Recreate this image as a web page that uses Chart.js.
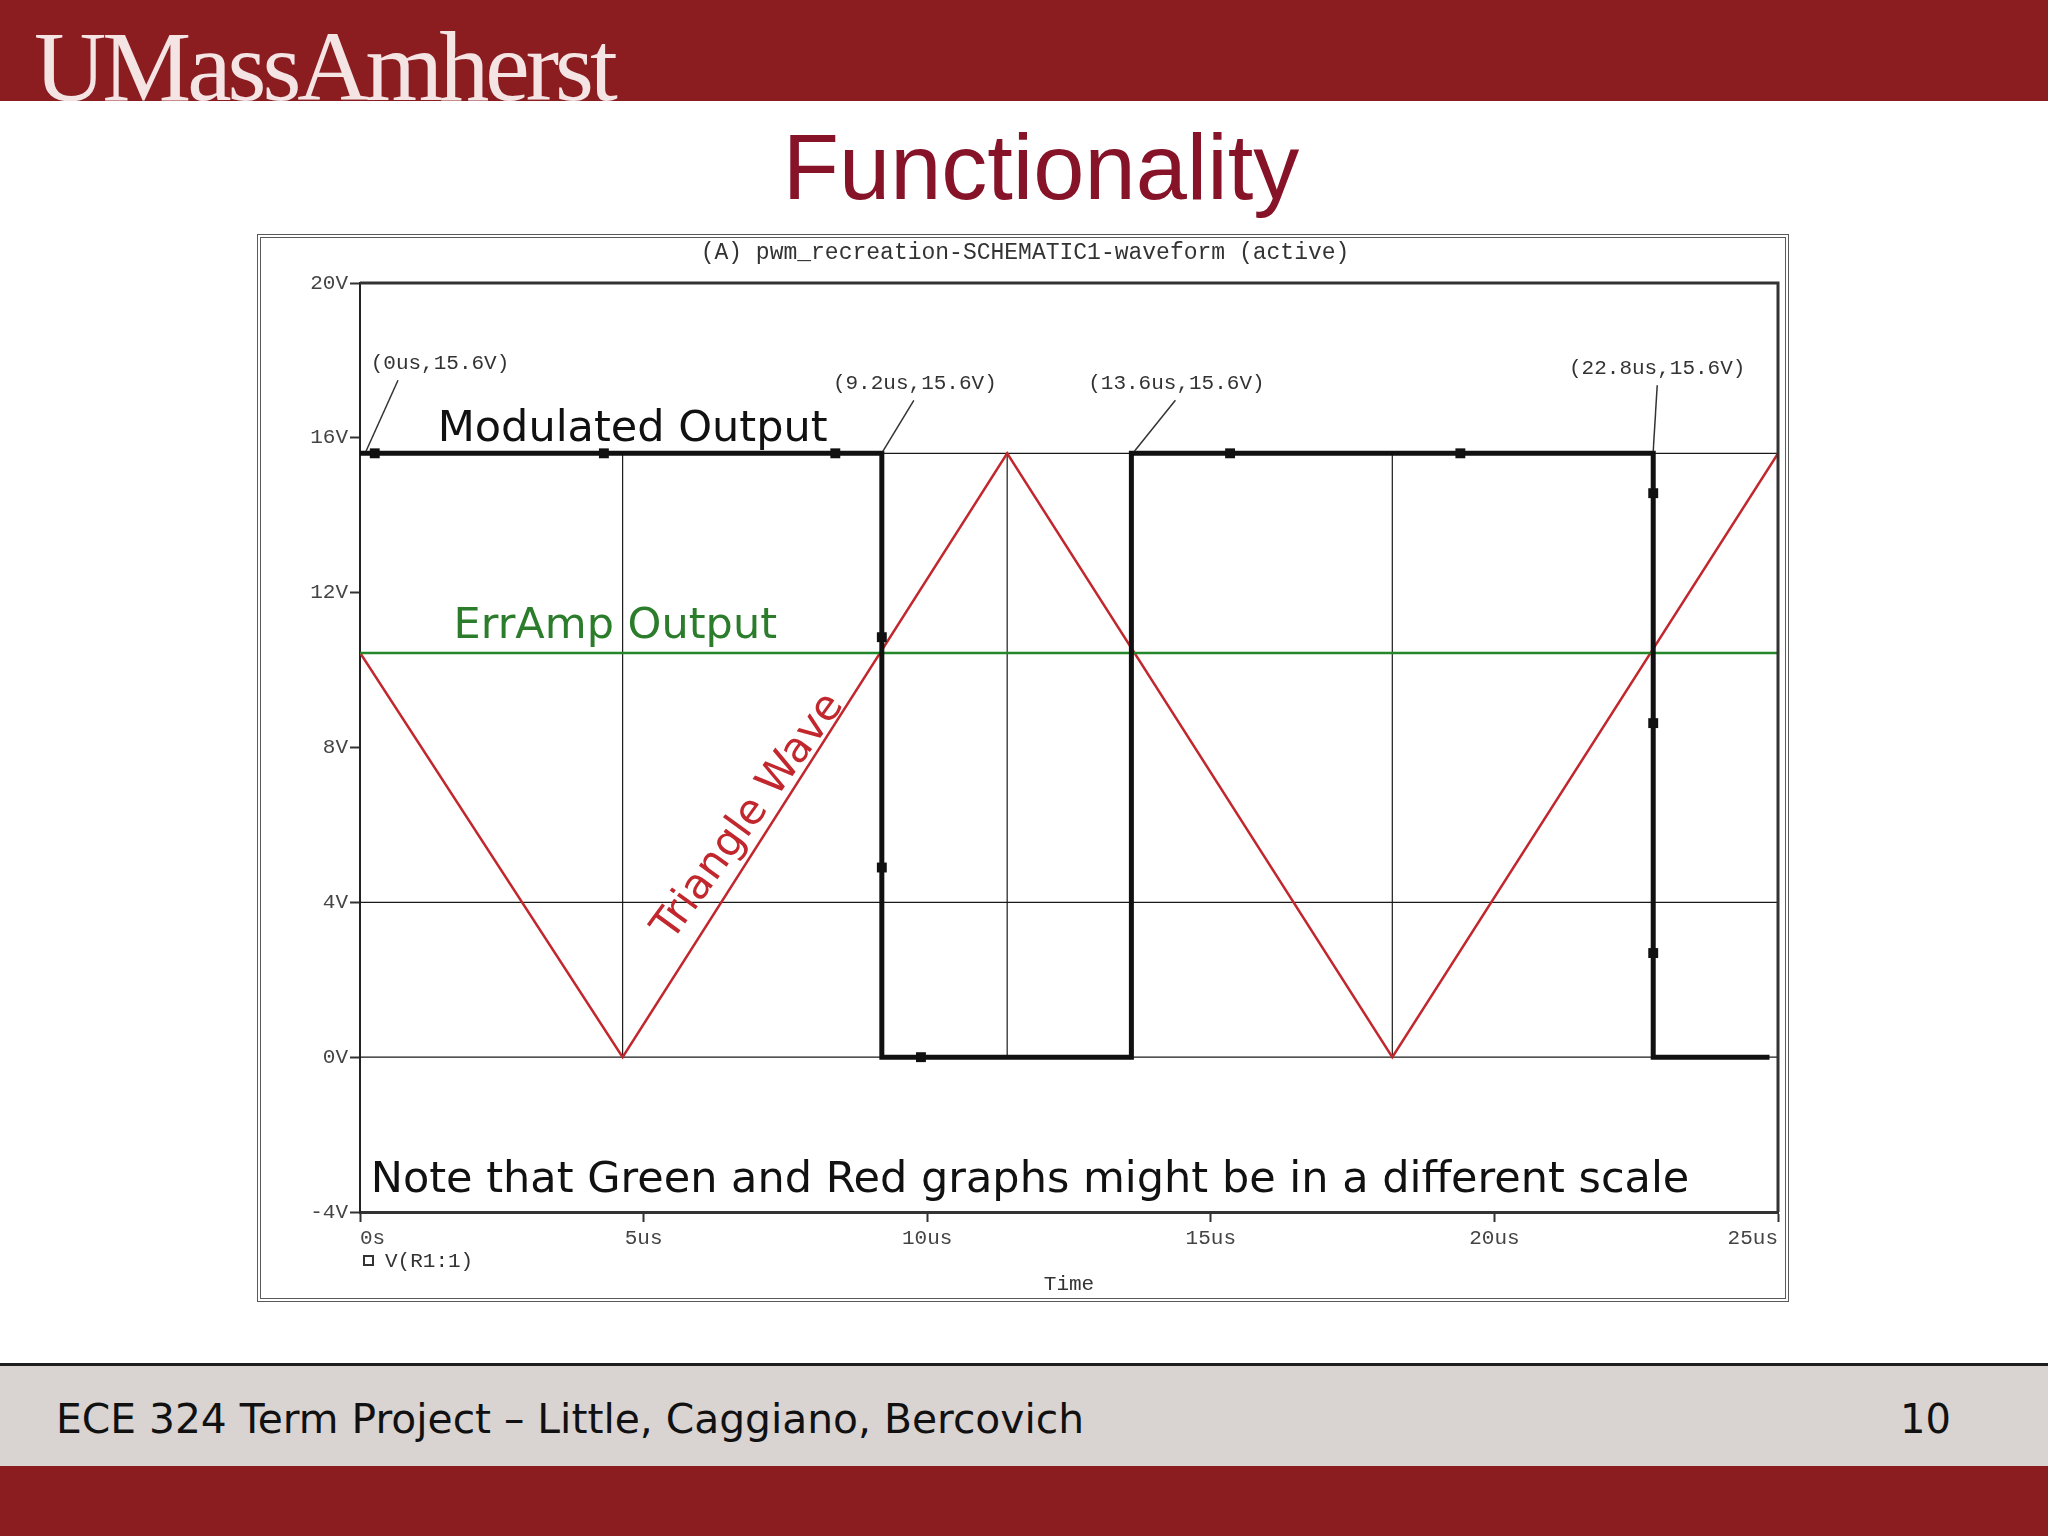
<!DOCTYPE html>
<html lang="en">
<head>
<meta charset="UTF-8">
<title>Functionality</title>
<script src="https://cdn.jsdelivr.net/npm/chart.js@4.4.1/dist/chart.umd.min.js"></script>
<style>
  body { margin: 0; width: 2048px; height: 1536px; position: relative; overflow: hidden; background: #fff; }
  #banner { position: absolute; left: 0; top: 0; width: 2048px; height: 101px; background: #8b1d21; overflow: hidden; }
  #logo { position: absolute; left: 34px; top: 17px; font: 100px/1 "Liberation Serif", serif; letter-spacing: -4px; color: #f4e4e4; white-space: nowrap; }
  #title { position: absolute; left: 1041px; top: 121px; transform: translateX(-50%); font: 92px/1 "Liberation Sans", Arial, sans-serif; color: #861328; white-space: nowrap; }
  #figure { position: absolute; left: 257px; top: 234px; width: 1532px; height: 1068px; border: 4px double #5a5a5a; box-sizing: border-box; background: #fff; }
  #chart { display: block; }
  #footline { position: absolute; left: 0; top: 1363px; width: 2048px; height: 3px; background: #1e1e1e; }
  #footer { position: absolute; left: 0; top: 1366px; width: 2048px; height: 100px; background: #d9d3d2; }
  #bottom { position: absolute; left: 0; top: 1466px; width: 2048px; height: 70px; background: #8b1d21; }
  .foot { position: absolute; top: 1399px; font: 40px/1 "DejaVu Sans", sans-serif; color: #111; white-space: nowrap; transform-origin: left center; }
</style>
</head>
<body>

<div id="banner"><div id="logo">UMassAmherst</div></div>
<div id="title">Functionality</div>

<div id="figure">
  <canvas id="chart" width="1524" height="1060"></canvas>
</div>

<div id="footline"></div>
<div id="footer"></div>
<div id="bottom"></div>
<div class="foot" id="footText" style="left:56px">ECE 324 Term Project – Little, Caggiano, Bercovich</div>
<div class="foot" style="left:1900px">10</div>

<script>
// axis ticks
const timeTicks = [0, 5, 10, 15, 20, 25];
const timeLabels = ['0s', '5us', '10us', '15us', '20us', '25us'];
const voltTicks = [-4, 0, 4, 8, 12, 16, 20];
const voltLabels = ['-4V', '0V', '4V', '8V', '12V', '16V', '20V'];

// modulated output V(R1:1)
const squareT = [0, 9.2, 9.2, 13.6, 13.6, 22.8, 22.8, 24.85];
const squareV = [15.6, 15.6, 0, 0, 15.6, 15.6, 0, 0];
const markerT = [0.26, 4.3, 8.38, 9.2, 9.2, 9.89, 15.34, 19.4, 22.8, 22.8, 22.8];
const markerV = [15.6, 15.6, 15.6, 10.85, 4.9, 0, 15.6, 15.6, 14.57, 8.63, 2.69];

// triangle wave
const triT = [0, 4.63, 11.41, 18.2, 25];
const triV = [10.45, 0, 15.6, 0, 15.6];

// errAmp output
const errT = [0, 25];
const errV = [10.44, 10.44];

// grid lines of the probe window
const gridTimes = [4.63, 11.41, 18.2];
const gridTimeSpan = [0, 15.6];
const gridLevels = [0, 4, 15.6];
const gridLevelSpan = [0, 25];

// cursor labels
const cursorT = [0, 9.2, 13.6, 22.8];
const cursorV = [15.6, 15.6, 15.6, 15.6];
const cursorText = ['(0us,15.6V)', '(9.2us,15.6V)', '(13.6us,15.6V)', '(22.8us,15.6V)'];

const RED = '#c1272d';
const GREEN = '#24882a';
const MONO = '"Liberation Mono", "Courier New", monospace';
const SANS = '"DejaVu Sans", Verdana, sans-serif';

function pts(xs, ys) {
  return xs.map((x, i) => ({ x: x, y: ys[i] }));
}

const gridSets = [];
gridTimes.forEach(t => {
  gridSets.push({ data: pts([t, t], gridTimeSpan), borderColor: '#1a1a1a', borderWidth: 1.2, pointRadius: 0, order: 10 });
});
gridLevels.forEach(v => {
  gridSets.push({ data: pts(gridLevelSpan, [v, v]), borderColor: '#1a1a1a', borderWidth: 1.2, pointRadius: 0, order: 10 });
});

const scopeDecor = {
  id: 'scopeDecor',
  beforeDraw(chart) {
    const c = chart.ctx;
    c.save();
    c.fillStyle = '#fff';
    c.fillRect(0, 0, chart.width, chart.height);
    c.restore();
  },
  afterDatasetsDraw(chart) {
    const c = chart.ctx;
    const xs = chart.scales.x, ys = chart.scales.y;
    c.save();

    // cursor labels with leader lines
    const offs = [[80, -90, 6, 38], [33, -70, 1, 32], [45, -70, 3, 44], [4, -85, 0, 4]];
    c.font = '21px ' + MONO;
    c.fillStyle = '#333';
    c.strokeStyle = '#333';
    c.lineWidth = 1.5;
    c.textAlign = 'center';
    c.textBaseline = 'middle';
    cursorT.forEach((t, i) => {
      const px = xs.getPixelForValue(t), py = ys.getPixelForValue(cursorV[i]);
      const o = offs[i];
      c.beginPath();
      c.moveTo(px + o[2], py - 2);
      c.lineTo(px + o[3], py + o[1] + 17);
      c.stroke();
      c.fillText(cursorText[i], px + o[0], py + o[1]);
    });

    // hand-written notes on the plot
    c.textAlign = 'left';
    c.textBaseline = 'alphabetic';
    c.font = '43px ' + SANS;
    c.fillStyle = '#111';
    c.fillText('Modulated Output', xs.getPixelForValue(1.37), ys.getPixelForValue(15.92));
    c.fillText('Note that Green and Red graphs might be in a different scale', xs.getPixelForValue(0.19), ys.getPixelForValue(-3.48));
    c.fillStyle = '#2b7d2b';
    c.fillText('ErrAmp Output', xs.getPixelForValue(1.65), ys.getPixelForValue(10.83));

    c.save();
    c.translate(xs.getPixelForValue(6.86), ys.getPixelForValue(6.2));
    c.rotate(-54 * Math.PI / 180);
    c.textAlign = 'center';
    c.textBaseline = 'middle';
    c.font = '42px ' + SANS;
    c.fillStyle = RED;
    c.fillText('Triangle Wave', 0, 0);
    c.restore();

    c.restore();
  },
  afterDraw(chart) {
    const c = chart.ctx;
    const a = chart.chartArea;
    c.save();
    // frame top and right
    c.strokeStyle = '#333';
    c.lineWidth = 3;
    c.beginPath();
    c.moveTo(a.left, a.top);
    c.lineTo(a.right, a.top);
    c.lineTo(a.right, a.bottom);
    c.stroke();

    c.fillStyle = '#333';
    c.font = '23px ' + MONO;
    c.textAlign = 'center';
    c.textBaseline = 'middle';
    c.fillText('(A) pwm_recreation-SCHEMATIC1-waveform (active)', 764, a.top - 30);
    c.font = '21px ' + MONO;
    c.fillText('Time', (a.left + a.right) / 2, a.bottom + 72);

    // trace legend
    c.lineWidth = 2;
    c.strokeRect(a.left + 4, a.bottom + 44, 9, 9);
    c.textAlign = 'left';
    c.fillText('V(R1:1)', a.left + 25, a.bottom + 49);
    c.restore();
  }
};

new Chart(document.getElementById('chart').getContext('2d'), {
  type: 'line',
  data: {
    datasets: [
      { data: pts(markerT, markerV), showLine: false, pointStyle: 'rect', pointRadius: 7, backgroundColor: '#111', borderWidth: 0, order: 0 },
      { data: pts(squareT, squareV), borderColor: '#111', borderWidth: 5, pointRadius: 0, order: 1 },
      { data: pts(errT, errV), borderColor: GREEN, borderWidth: 2.5, pointRadius: 0, order: 2 },
      { data: pts(triT, triV), borderColor: RED, borderWidth: 2.5, pointRadius: 0, order: 3 },
      ...gridSets
    ]
  },
  options: {
    responsive: false,
    animation: false,
    events: [],
    layout: { padding: { top: 45, right: 4, left: 0, bottom: 0 } },
    elements: { line: { tension: 0, fill: false } },
    plugins: { legend: { display: false }, tooltip: { enabled: false } },
    scales: {
      x: {
        type: 'linear', min: 0, max: 25,
        afterBuildTicks: s => { s.ticks = timeTicks.map(v => ({ value: v })); },
        afterFit: s => { s.height = 86; },
        ticks: {
          callback: v => timeLabels[timeTicks.indexOf(v)],
          align: 'inner', autoSkip: false, maxRotation: 0, padding: 4,
          font: { family: MONO, size: 21 }, color: '#444'
        },
        grid: { drawOnChartArea: false, tickLength: 10, tickColor: '#333', tickWidth: 2 },
        border: { color: '#333', width: 3 }
      },
      y: {
        type: 'linear', min: -4, max: 20,
        afterBuildTicks: s => { s.ticks = voltTicks.map(v => ({ value: v })); },
        afterFit: s => { s.width = 99; },
        ticks: {
          callback: v => voltLabels[voltTicks.indexOf(v)],
          autoSkip: false, padding: 2,
          font: { family: MONO, size: 21 }, color: '#444'
        },
        grid: { drawOnChartArea: false, tickLength: 10, tickColor: '#333', tickWidth: 2 },
        border: { color: '#222', width: 2 }
      }
    }
  },
  plugins: [scopeDecor]
});

// squeeze the footer line to the slide's width
const foot = document.getElementById('footText');
const w = foot.getBoundingClientRect().width;
foot.style.transform = 'scaleX(' + (1028 / w) + ')';
</script>
</body>
</html>
